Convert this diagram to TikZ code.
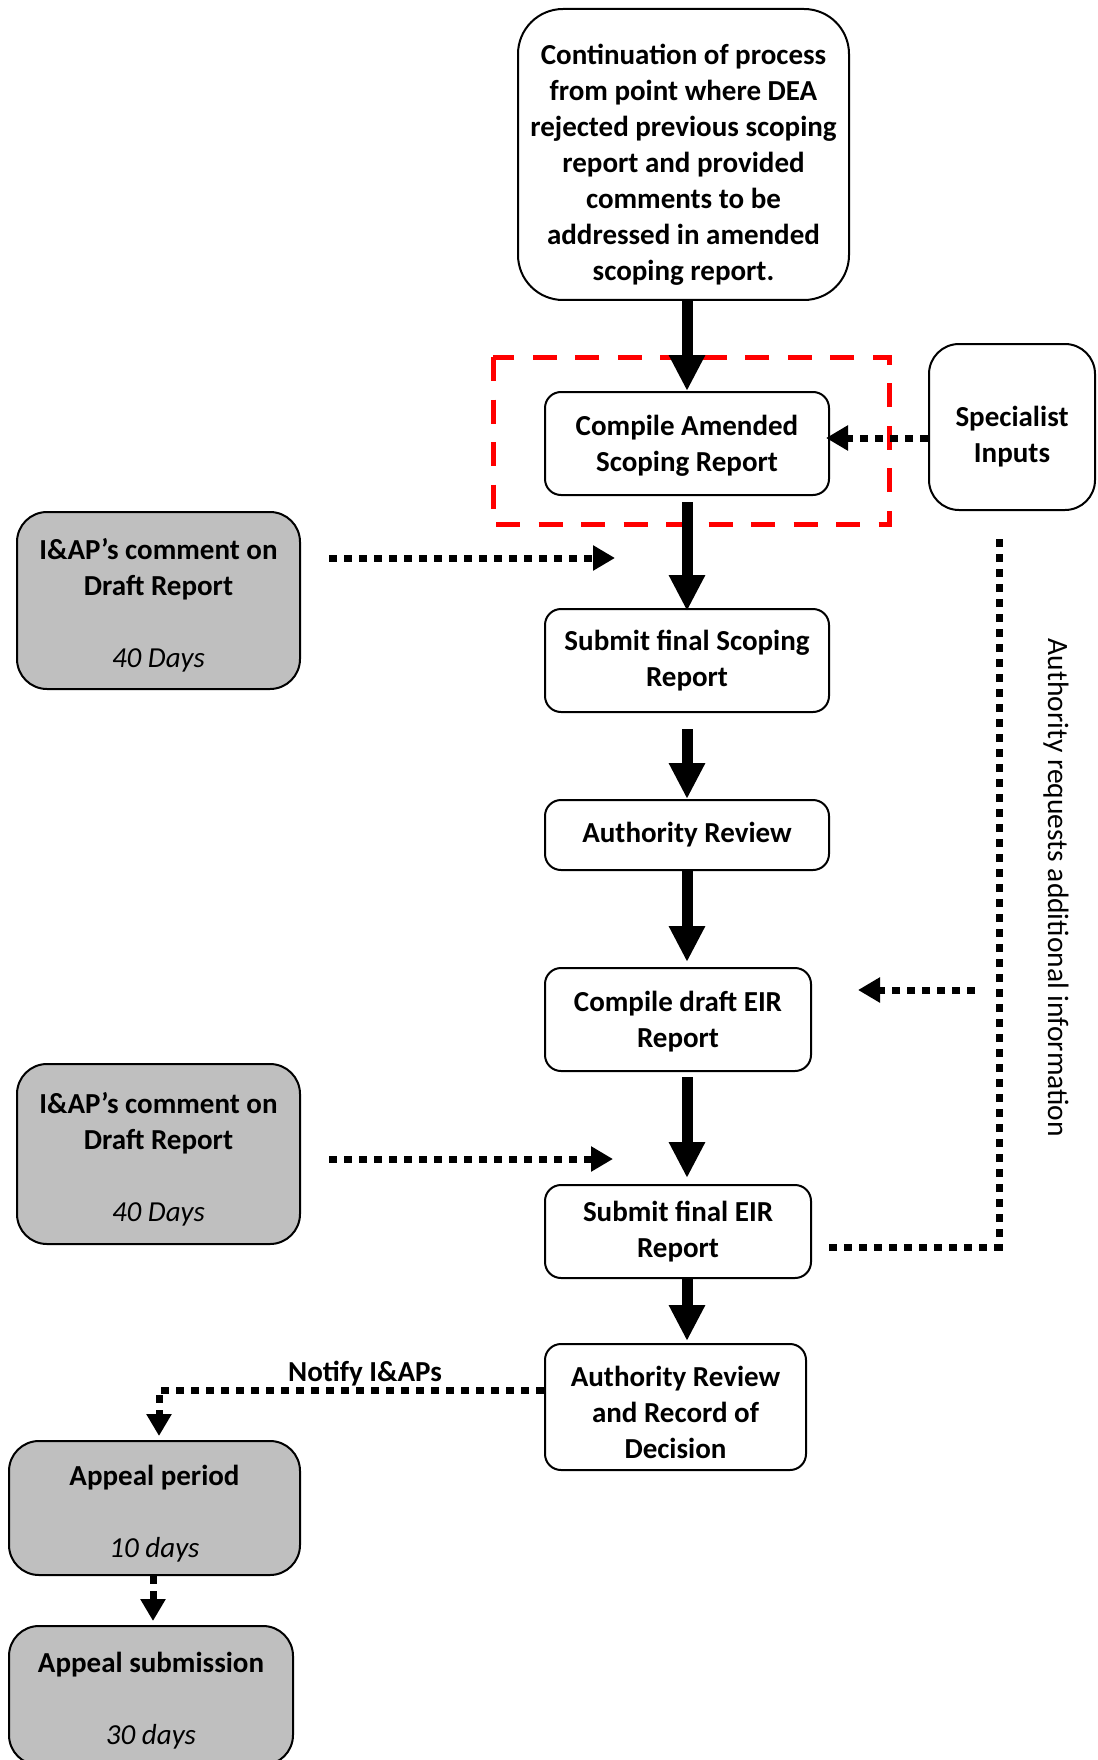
\documentclass[tikz,border=0pt]{standalone}
\usepackage{fontspec}
\setmainfont{Carlito}
\usetikzlibrary{arrows.meta}
\definecolor{boxgray}{RGB}{191,191,191}
\newcommand\lowr[1]{\rule{0pt}{#1}}
\begin{document}
\begin{tikzpicture}[x=1pt,y=-1pt,
 box/.style={draw=black, line width=2pt, rounded corners=16pt, fill=white, align=center, font=\fontsize{29}{36}\selectfont\bfseries, inner sep=0pt},
 graybox/.style={box, fill=boxgray, rounded corners=30pt},
 bigarrow/.style={line width=11pt, -{Triangle[width=34pt,length=36pt]}},
 dotline/.style={line width=7pt, dash pattern=on 8pt off 7pt},
 dotarrow/.style={dotline, -{Triangle[width=24pt,length=22pt]}},
 redbox/.style={draw=red, line width=5pt, dash pattern=on 24pt off 18.5pt},
]
\useasboundingbox (0,0) rectangle (1097,1760);

\draw[redbox] (493,357) rectangle (889,524);

\node[box, minimum width=331pt, minimum height=291pt, rounded corners=45pt] (top) at (683.5,154.5)
 {\lowr{40pt}Continuation of process\\from point where DEA\\rejected previous scoping\\report and provided\\comments to be\\addressed in amended\\scoping report.};
\node[box, minimum width=284pt, minimum height=103pt] (cas) at (687,443.5) {\lowr{24pt}Compile Amended\\Scoping Report};
\node[box, minimum width=166pt, minimum height=166pt, rounded corners=30pt] (spec) at (1012,427) {\lowr{40pt}Specialist\\Inputs};
\node[box, minimum width=284pt, minimum height=103pt] (sfs) at (687,660.5) {Submit final Scoping\\Report};
\node[box, minimum width=284pt, minimum height=70pt] (ar) at (687,835) {Authority Review};
\node[box, minimum width=266pt, minimum height=103pt] (cde) at (678,1019.5) {\lowr{24pt}Compile draft EIR\\Report};
\node[box, minimum width=266pt, minimum height=93pt] (sfe) at (678,1231.5) {Submit final EIR\\Report};
\node[box, minimum width=261pt, minimum height=126pt] (arrod) at (675.5,1407) {\lowr{31pt}Authority Review\\and Record of\\Decision};

\node[graybox, minimum width=283pt, minimum height=177pt] (iap1) at (158.5,600.5) {\lowr{31pt}I\&AP’s comment on\\Draft Report\\[36pt]\textit{\mdseries 40 Days}};
\node[graybox, minimum width=283pt, minimum height=180pt] (iap2) at (158.5,1154) {\lowr{31pt}I\&AP’s comment on\\Draft Report\\[36pt]\textit{\mdseries 40 Days}};
\node[graybox, minimum width=291pt, minimum height=134pt] (ap) at (154.5,1508) {\lowr{31pt}Appeal period\\[36pt]\textit{\mdseries 10 days}};
\node[graybox, minimum width=284pt, minimum height=139pt] (as) at (151,1695.5) {\lowr{31pt}Appeal submission\\[36pt]\textit{\mdseries 30 days}};

% main thick arrows
\draw[bigarrow] (top.south -| cas.north) -- (cas.north);
\draw[bigarrow] ([yshift=-6pt]cas.south) -- ([yshift=-3pt]sfs.north);
\draw[bigarrow, shorten <=16pt] (sfs.south) -- (ar.north);
\draw[bigarrow, shorten >=5pt] (ar.south) -- (cde.north -| ar.south);
\draw[bigarrow, shorten <=5pt, shorten >=6pt] (cde.south -| ar.south) -- (sfe.north -| ar.south);
\draw[bigarrow, shorten >=2pt] (sfe.south -| ar.south) -- (arrod.north -| ar.south);

% dotted connectors
\coordinate (t1) at (615,558);
\coordinate (t2) at (613,1159);
\coordinate (c1) at (999,1247);
\coordinate (c2) at (999,537);
\coordinate (c3) at (975,990);
\coordinate (n1) at (159,1390);

\draw[dotarrow, shorten >=-4pt] (spec.west |- 0,438) -- (cas.east |- 0,438);
\draw[dotarrow, shorten <=28pt] (iap1.east |- t1) -- (t1);
\draw[dotarrow, shorten <=28pt] (iap2.east |- t2) -- (t2);
\draw[dotline, shorten <=17pt] (sfe.east |- c1) -- (c1) -- (c2);
\draw[dotarrow, shorten >=46pt] (c3) -- (cde.east |- c3);
\draw[dotarrow, shorten >=4pt] (arrod.west |- n1) -- (n1) -- (n1 |- ap.north);
\draw[dotarrow, shorten >=4pt] (ap.south -| 153,0) -- (as.north -| 153,0);

\node[font=\fontsize{29}{36}\selectfont\bfseries] (notify) at (365,1374) {Notify I\&APs};
\node[rotate=-90, font=\fontsize{29.5}{34}\selectfont] (req) at (1056,888) {Authority requests additional information};
\end{tikzpicture}
\end{document}
